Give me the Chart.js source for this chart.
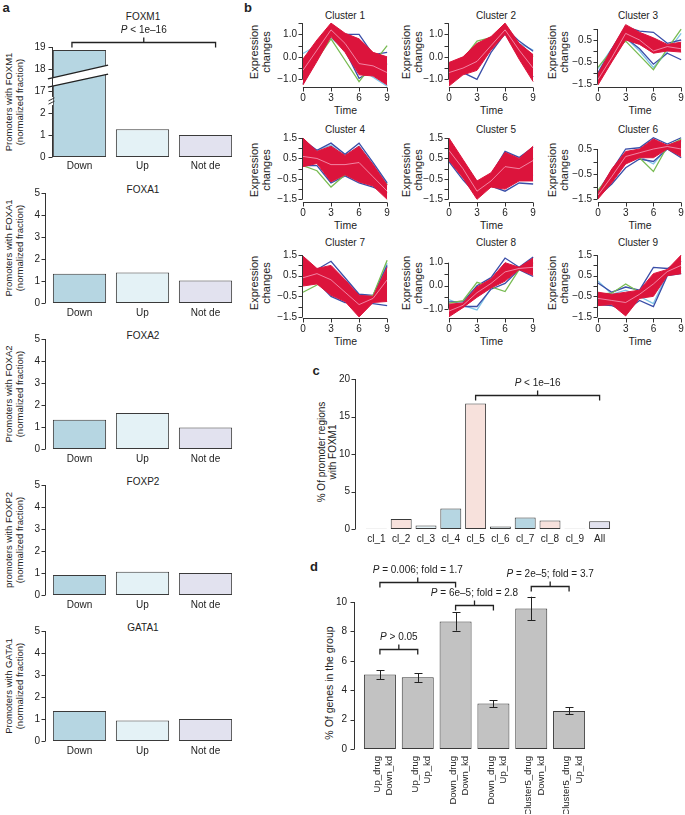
<!DOCTYPE html>
<html><head><meta charset="utf-8">
<script src="https://cdn.jsdelivr.net/npm/chart.js"></script>
<style>
html,body{margin:0;padding:0;background:#fff;overflow:hidden;width:685px;height:815px;}
body{position:relative;font-family:'Liberation Sans',Arial,sans-serif;color:#222;}
canvas{position:absolute;}
.t{position:absolute;white-space:nowrap;transform:translate(-50%,-50%);font-size:10px;line-height:1;text-align:center;}
.r{transform:translate(-50%,-50%) rotate(-90deg);}
.lab{font-weight:bold;font-size:13px;}
</style></head><body>
<script>
// ---------------- DATA ----------------
const aCats = ['Down', 'Up', 'Not de'];
const foxm1 = [18.86, 1.26, 1.0];
const foxa1 = [1.33, 1.39, 1.02];
const foxa2 = [1.33, 1.64, 0.98];
const foxp2 = [0.91, 1.06, 1.0];
const gata1 = [1.36, 0.93, 1.0];
const aYTicks = [0, 1, 2, 3, 4, 5];
const foxm1TickLabels = ['0', '1', '2', '17', '18', '19'];

const times = [0, 1.5, 3, 4.5, 6, 7.5, 9];
const timeTicks = [0, 3, 6, 9];
// series order per cluster: red upper, red lower, blue upper, blue lower, green, light blue, pink
const cluster1 = [
  [-0.1, 0.75, 1.5, 1.05, 0.8, 0.2, 0.0],
  [-1.25, -0.2, 0.9, 0.2, -0.8, -0.85, -1.25],
  [-0.2, 0.5, 1.2, 1.0, 1.0, 0.1, 0.2],
  [-1.2, 0.0, 1.0, 0.3, -0.95, -0.6, -0.3],
  [-1.0, -0.1, 0.8, -0.15, -1.1, -0.3, 0.5],
  [0.15, 0.5, 0.85, 0.3, -0.5, -0.9, -1.3],
  [-0.6, 0.3, 1.2, 0.6, -0.3, -0.4, -0.7]];
const cluster2 = [
  [-0.25, 0.0, 0.6, 0.9, 1.5, 0.6, 0.1],
  [-1.3, -0.8, -0.6, 0.3, 1.0, -0.1, -1.1],
  [-0.3, -0.2, 0.4, 0.8, 1.3, 0.7, 0.25],
  [-1.1, -0.7, -1.0, 0.2, 1.05, 0.0, -0.9],
  [-0.5, -0.1, 0.7, 0.85, 1.1, 0.5, 0.0],
  [-0.4, -0.3, -0.5, 0.5, 1.0, 0.6, 0.3],
  [-0.7, -0.5, -0.2, 0.5, 1.2, 0.3, -0.5]];
const cluster3 = [
  [-1.05, 0.1, 1.2, 0.85, 0.6, 0.3, 0.4],
  [-1.55, -0.5, 0.5, 0.3, -0.1, 0.0, -0.05],
  [-1.0, 0.1, 1.1, 0.9, 0.85, 0.35, 0.5],
  [-1.3, -0.4, 0.6, 0.1, -0.6, -0.1, -0.4],
  [-0.75, 0.0, 0.45, -0.2, -0.85, 0.1, 1.0],
  [-0.8, 0.1, 0.6, 0.0, -0.75, -0.05, 0.8],
  [-1.3, -0.3, 0.8, 0.5, 0.0, 0.2, 0.1]];
const cluster4 = [
  [1.5, 0.85, 1.1, 0.65, 1.1, 0.2, -0.8],
  [0.1, 0.25, -0.65, -0.3, -0.65, -0.85, -1.5],
  [1.4, 0.9, 1.25, 0.7, 1.25, 0.3, -0.7],
  [0.15, 0.15, -0.7, -0.35, -0.7, -0.9, -1.2],
  [0.15, -0.1, -0.9, -0.3, 0.9, 0.0, -0.8],
  [0.3, 0.9, 1.15, 0.6, 1.1, 0.2, -0.75],
  [0.6, 0.5, 0.2, 0.2, 0.3, -0.4, -1.1]];
const cluster5 = [
  [1.5, 0.45, -0.6, -0.2, 0.8, 0.5, 1.1],
  [0.4, -0.45, -1.5, -0.9, -1.0, -0.6, -0.6],
  [1.3, 0.3, -0.65, -0.3, 0.85, 0.55, 1.05],
  [0.35, -0.55, -1.3, -0.85, -1.1, -0.7, -0.75],
  [0.8, -0.2, -1.0, -0.6, 0.2, 0.3, 0.5],
  [0.5, -0.3, -0.9, -0.7, -0.4, -0.5, -0.3],
  [0.9, 0.0, -1.1, -0.6, 0.1, 0.0, 0.4]];
const cluster6 = [
  [-1.25, -0.3, 0.4, 0.5, 0.9, 0.65, 0.85],
  [-1.5, -0.85, -0.1, 0.15, 0.15, 0.5, 0.2],
  [-1.2, -0.35, 0.5, 0.55, 0.95, 0.7, 0.95],
  [-1.4, -0.9, -0.25, 0.1, 0.0, 0.5, 0.15],
  [-1.15, -0.5, 0.3, 0.15, -0.4, 0.6, 0.9],
  [-1.2, -0.6, 0.2, 0.2, -0.1, 0.55, 0.8],
  [-1.35, -0.6, 0.2, 0.35, 0.5, 0.6, 0.5]];
const cluster7 = [
  [1.45, 0.85, 1.0, 0.3, -0.45, -0.5, 0.9],
  [0.0, 0.1, -0.45, -0.75, -1.5, -0.8, -0.75],
  [1.3, 0.8, 1.2, 0.4, -0.4, -0.45, 1.0],
  [0.15, 0.2, -0.5, -0.8, -0.8, -0.85, -0.95],
  [-0.3, 0.05, 0.6, 0.0, -0.6, -0.45, 1.25],
  [0.2, 0.25, 0.4, -0.2, -0.4, -0.5, 1.1],
  [0.4, 0.6, 0.3, -0.3, -0.9, -0.6, 0.3]];
const cluster8 = [
  [-0.8, -0.75, -0.05, 0.3, 1.0, 0.8, 1.2],
  [-1.35, -0.95, -0.5, -0.1, 0.2, 0.7, 0.45],
  [-0.7, -0.7, 0.0, 0.35, 1.2, 0.8, 1.25],
  [-1.0, -0.9, -0.9, -0.15, 0.1, 0.7, 0.4],
  [-0.75, -0.65, 0.15, -0.05, -0.25, 0.7, 1.0],
  [-0.6, -0.85, -1.05, -0.1, 0.3, 0.75, 0.9],
  [-1.1, -0.85, -0.3, 0.1, 0.6, 0.75, 0.8]];
const cluster9 = [
  [-0.3, -0.4, -0.3, -0.2, 0.6, 0.8, 1.5],
  [-0.95, -0.9, -1.45, -0.6, -0.5, 0.5, 0.6],
  [0.15, -0.3, -0.05, -0.2, 0.9, 0.85, 1.2],
  [-0.9, -0.95, -1.2, -0.7, -1.0, 0.5, 0.6],
  [-0.4, -0.35, 0.1, -0.3, -0.2, 0.7, 0.9],
  [0.25, -0.4, -0.2, -0.5, -0.85, 0.6, 0.7],
  [-0.6, -0.7, -0.8, -0.4, 0.1, 0.7, 1.0]];
const clusterNames = ['Cluster 1','Cluster 2','Cluster 3','Cluster 4','Cluster 5','Cluster 6','Cluster 7','Cluster 8','Cluster 9'];
const clusterYMin = [-1.34, -1.34, -1.64, -1.63, -1.63, -1.62, -1.55, -1.4, -1.55];
const clusterYMax = [1.55, 1.55, 1.32, 1.55, 1.55, 0.98, 1.6, 1.42, 1.6];
const yTicksA = [-1, -0.5, 0, 0.5, 1, 1.5];
const yTicksB = [-1.5, -1, -0.5, 0, 0.5, 1];
const yTicksC = [-1.5, -1, -0.5, 0, 0.5, 1, 1.5];
const yTicksD = [-1.5, -1, -0.5, 0, 0.5];
const yTicksE = [-1, -0.5, 0, 0.5, 1];
const yLabA = [-1, 0, 1];
const yLabB = [-1.5, -0.5, 0.5];
const yLabC = [-1.5, -0.5, 0.5, 1.5];

const cCats = ['cl_1','cl_2','cl_3','cl_4','cl_5','cl_6','cl_7','cl_8','cl_9','All'];
const cVals = [0.05, 1.33, 0.48, 2.75, 16.75, 0.35, 1.55, 1.15, 0.05, 1.02];
const cYTicks = [0, 5, 10, 15, 20];

const dCats = [['Up_drug','Down_kd'], ['Up_drug','Up_kd'], ['Down_drug','Down_kd'], ['Down_drug','Up_kd'], ['Cluster5_drug','Down_kd'], ['Cluster5_drug','Up_kd']];
const dVals = [5.06, 4.88, 8.68, 3.1, 9.55, 2.58];
const dErrLo = [4.76, 4.56, 8.05, 2.86, 8.75, 2.38];
const dErrHi = [5.35, 5.17, 9.32, 3.33, 10.36, 2.83];
const dYTicks = [0, 2, 4, 6, 8, 10];

// ---------------- STYLE / HELPERS ----------------
const FONT = "'Liberation Sans', Arial, sans-serif";
Chart.defaults.font.family = FONT;
Chart.defaults.font.size = 10;
Chart.defaults.color = '#222';
Chart.defaults.animation = false;
Chart.defaults.plugins.legend.display = false;
Chart.defaults.plugins.tooltip.enabled = false;
const AX = '#333', EDGE = '#3a3a3a';
const C_DOWN = '#b6d6e2', C_UP = '#e4f2f6', C_NOT = '#e2e2ef', C_PINK = '#f7e1dc', C_GRAY = '#c2c2c2';

function txt(s, x, y, o = {}) {
  const d = document.createElement('div');
  d.className = 't' + (o.rot ? ' r' : '') + (o.cls ? ' ' + o.cls : '');
  d.innerHTML = s;
  d.style.left = x + 'px'; d.style.top = y + 'px';
  if (o.size) d.style.fontSize = o.size + 'px';
  if (o.lh) d.style.lineHeight = o.lh + 'px';
  document.body.appendChild(d);
}
function makeCanvas(area, Wy, Hx, padT, padR) {
  const c = document.createElement('canvas');
  const w = Math.round(area.r - area.l + Wy + padR), h = Math.round(area.b - area.t + padT + Hx);
  c.width = w; c.height = h;
  c.style.left = (area.l - Wy) + 'px'; c.style.top = (area.t - padT) + 'px';
  c.style.width = w + 'px'; c.style.height = h + 'px';
  document.body.appendChild(c);
  return c;
}
function fmt1(v) { return (v < 0 ? '\u2212' : '') + Math.abs(v).toFixed(1); }
function yLin(min, max, ticks, labelFn, Wy, pad) {
  return { type: 'linear', position: 'left', min, max,
    grid: { display: false, drawTicks: false }, border: { display: false },
    ticks: { padding: pad, autoSkip: false, callback: labelFn },
    afterBuildTicks: s => { s.ticks = ticks.map(v => ({ value: v })); },
    afterFit: s => { s.width = Wy; s.paddingTop = 0; s.paddingBottom = 0; } };
}
function xCat(Hx, pad, extra = {}) {
  return { type: 'category', grid: { display: false, drawTicks: false }, border: { display: false },
    ticks: Object.assign({ padding: pad, autoSkip: false, maxRotation: 0, minRotation: 0 }, extra),
    afterFit: s => { s.height = Hx; s.paddingLeft = 0; s.paddingRight = 0; } };
}
function drawP(ctx, x, y, rest) {
  ctx.save(); ctx.textBaseline = 'middle'; ctx.fillStyle = '#222'; ctx.textAlign = 'left';
  const fi = 'italic 10px ' + FONT, fn = '10px ' + FONT;
  ctx.font = fi; const w1 = ctx.measureText('P').width;
  ctx.font = fn; const w2 = ctx.measureText(rest).width;
  const sx = x - (w1 + w2) / 2;
  ctx.font = fi; ctx.fillText('P', sx, y);
  ctx.font = fn; ctx.fillText(rest, sx + w1, y);
  ctx.restore();
}

// ---------------- PLUGINS ----------------
const axisBreak = { id: 'axisBreak', afterDraw(chart, args, o) {
  if (!o || !o.band) return;
  const ctx = chart.ctx, ys = chart.scales.y, bar = chart.getDatasetMeta(0).data[o.bar];
  const xl = bar.x - bar.width / 2 - 5, xr = bar.x + bar.width / 2 + 2;
  const [bl, br, tl, tr] = o.band.map(v => ys.getPixelForValue(v));
  ctx.save();
  ctx.fillStyle = '#fff';
  ctx.beginPath(); ctx.moveTo(xl, tl); ctx.lineTo(xr, tr); ctx.lineTo(xr, br); ctx.lineTo(xl, bl); ctx.closePath(); ctx.fill();
  ctx.strokeStyle = '#222'; ctx.lineWidth = 1.3;
  ctx.beginPath(); ctx.moveTo(xl, tl); ctx.lineTo(xr, tr); ctx.moveTo(xl, bl); ctx.lineTo(xr, br); ctx.stroke();
  const ax = chart.chartArea.left - o.gap;
  ctx.lineWidth = 1; ctx.strokeStyle = AX; ctx.beginPath();
  o.marks.forEach(v => { const p = ys.getPixelForValue(v); ctx.moveTo(ax - 3, p + 1.5); ctx.lineTo(ax + 3, p - 1.5); });
  ctx.stroke(); ctx.restore();
} };
const rAxes = { id: 'rAxes', afterDraw(chart, args, o) {
  if (!o) return;
  const ctx = chart.ctx, ca = chart.chartArea;
  ctx.save(); ctx.strokeStyle = AX; ctx.lineWidth = 1; ctx.beginPath();
  if (o.y) {
    const s = chart.scales.y, x = Math.round(ca.left - o.y.gap) + 0.5, tk = o.y.ticks;
    const segs = o.y.segs || [[tk[0], tk[tk.length - 1]]];
    segs.forEach(([a, b]) => { ctx.moveTo(x, s.getPixelForValue(a)); ctx.lineTo(x, s.getPixelForValue(b)); });
    tk.forEach(v => { const p = Math.round(s.getPixelForValue(v)) + 0.5; ctx.moveTo(x, p); ctx.lineTo(x - 4, p); });
  }
  if (o.x) {
    const s = chart.scales.x, y = Math.round(ca.bottom + o.x.gap) + 0.5, tk = o.x.ticks;
    ctx.moveTo(s.getPixelForValue(tk[0]), y); ctx.lineTo(s.getPixelForValue(tk[tk.length - 1]), y);
    tk.forEach(v => { const p = Math.round(s.getPixelForValue(v)) + 0.5; ctx.moveTo(p, y); ctx.lineTo(p, y + 4); });
  }
  ctx.stroke(); ctx.restore();
} };
const brackets = { id: 'brackets', afterDraw(chart, args, o) {
  if (!o || !o.items) return;
  const ctx = chart.ctx, xs = chart.scales.x, ys = chart.scales.y;
  o.items.forEach(b => {
    const x0 = xs.getPixelForValue(b.a), x1 = xs.getPixelForValue(b.b), xm = (x0 + x1) / 2;
    const y = Math.round(ys.getPixelForValue(b.y)) + 0.5;
    ctx.save(); ctx.strokeStyle = '#222'; ctx.lineWidth = 1.3; ctx.beginPath();
    ctx.moveTo(x0, y + 5); ctx.lineTo(x0, y); ctx.lineTo(x1, y); ctx.lineTo(x1, y + 5);
    ctx.moveTo(xm, y); ctx.lineTo(xm, y - 5); ctx.stroke(); ctx.restore();
    drawP(ctx, xm, y - 12, b.t);
  });
} };
const errBars = { id: 'errBars', afterDatasetsDraw(chart, args, o) {
  if (!o || !o.lo) return;
  const ctx = chart.ctx, ys = chart.scales.y;
  ctx.save(); ctx.strokeStyle = '#222'; ctx.lineWidth = 1; ctx.beginPath();
  chart.getDatasetMeta(0).data.forEach((bar, i) => {
    const x = Math.round(bar.x) + 0.5, a = ys.getPixelForValue(o.lo[i]), b = ys.getPixelForValue(o.hi[i]);
    ctx.moveTo(x, a); ctx.lineTo(x, b);
    ctx.moveTo(x - 4, Math.round(a) + 0.5); ctx.lineTo(x + 4, Math.round(a) + 0.5);
    ctx.moveTo(x - 4, Math.round(b) + 0.5); ctx.lineTo(x + 4, Math.round(b) + 0.5);
  });
  ctx.stroke(); ctx.restore();
} };
Chart.register(axisBreak, rAxes, brackets, errBars);

// ---------------- PANEL LABELS ----------------
txt('a', 6, 7, { cls: 'lab' });
txt('b', 248, 7, { cls: 'lab' });
txt('c', 316, 370, { cls: 'lab' });
txt('d', 314, 566, { cls: 'lab' });

// ---------------- PANEL A ----------------
const aPanels = [
  { vals: foxm1, name: 'FOXM1', ylab: 'Promoters with FOXM1', top: 47, broken: true },
  { vals: foxa1, name: 'FOXA1', ylab: 'Promoters with FOXA1', top: 193 },
  { vals: foxa2, name: 'FOXA2', ylab: 'Promoters with FOXA2', top: 339 },
  { vals: foxp2, name: 'FOXP2', ylab: 'promoters with FOXP2', top: 485 },
  { vals: gata1, name: 'GATA1', ylab: 'Promoters with GATA1', top: 631 }];
const brkShift = 14; // 16.5 on the real axis sits right above 2.5
aPanels.forEach(p => {
  const area = { l: 48, r: 237, t: p.top, b: p.top + 110 };
  txt(p.name, 143, p.top - 3 - (p.broken ? 27 : 0));
  txt(p.ylab + '<br>(normalized fraction)', 13.5, p.top + 55, { rot: true, size: 9.5, lh: 11 });
  const padT = p.broken ? 28 : 7;
  const cv = makeCanvas(area, 48, 20, padT, 4);
  const shown = p.broken ? p.vals.map(v => v > 2.5 ? v - brkShift : v) : p.vals;
  const labFn = p.broken ? (v => foxm1TickLabels[aYTicks.indexOf(v)]) : (v => String(v));
  new Chart(cv, { type: 'bar',
    data: { labels: aCats, datasets: [{ data: shown, backgroundColor: [C_DOWN, C_UP, C_NOT], borderColor: EDGE,
      borderWidth: 1, borderSkipped: false, categoryPercentage: 1, barPercentage: 0.845 }] },
    options: { responsive: false, devicePixelRatio: 1, layout: { padding: { top: padT, right: 4, left: 0, bottom: 0 } },
      scales: { x: xCat(20, p.broken ? 3 : 4), y: yLin(0, 5, aYTicks, labFn, 48, p.broken ? 2.5 : 8) },
      plugins: {
        rAxes: { y: { gap: p.broken ? -3.5 : 3.5, ticks: aYTicks, segs: p.broken ? [[0, 2.36], [2.73, 5]] : null } },
        brackets: p.broken ? { items: [{ a: -0.12, b: 2.16, y: 5.23, t: ' < 1e\u201316' }] } : false,
        axisBreak: p.broken ? { bar: 0, band: [3.18, 3.77, 3.55, 4.18], gap: -3.5, marks: [2.47, 2.62] } : false
      } } });
});

// ---------------- PANEL B ----------------
const clusters = [cluster1, cluster2, cluster3, cluster4, cluster5, cluster6, cluster7, cluster8, cluster9];
const clusterYTicks = [yTicksA, yTicksA, yTicksB, yTicksC, yTicksC, yTicksD, yTicksC, yTicksE, yTicksC];
const clusterYLab = [yLabA, yLabA, yLabB, yLabC, yLabC, yLabB, yLabC, yLabA, yLabC];
const seriesStyle = [
  { c: '#dc143c', w: 1, order: 1 },
  { c: '#dc143c', w: 1, order: 1, fill: '-1' },
  { c: '#3a4ea8', w: 1.3, order: 3 },
  { c: '#3a4ea8', w: 1.3, order: 3 },
  { c: '#78bb52', w: 1.3, order: 2 },
  { c: '#80c6e8', w: 1.3, order: 4 },
  { c: 'rgba(250,185,212,0.85)', w: 0.8, order: 0 }];
const colL = [302, 448, 597], colR = [389, 535, 683];
const rowT = [22, 137, 253], rowB = [87, 202, 318];
const titleY = [16, 130, 243], timeY = [110, 225, 341], ylabY = [52, 170, 283];
const titleX = [345, 496, 638], ylabX = [260, 411.5, 558];
clusters.forEach((cl, k) => {
  const col = k % 3, row = Math.floor(k / 3);
  const area = { l: colL[col], r: colR[col], t: rowT[row], b: rowB[row] };
  txt(clusterNames[k], titleX[col], titleY[row]);
  txt('Time', (area.l + area.r) / 2, timeY[row], { size: 10.5 });
  txt('Expression<br>changes', ylabX[col], ylabY[row], { rot: true, size: 11, lh: 12 });
  const cv = makeCanvas(area, 25, 18, 4, col === 2 ? 2 : 4);
  const labs = clusterYLab[k];
  new Chart(cv, { type: 'line',
    data: { datasets: cl.map((ys, i) => {
      const st = seriesStyle[i];
      return { data: ys.map((y, j) => ({ x: times[j], y })), borderColor: st.c, borderWidth: st.w, order: st.order,
        pointRadius: 0, tension: 0, fill: st.fill || false, backgroundColor: st.c };
    }) },
    options: { responsive: false, devicePixelRatio: 1,
      layout: { padding: { top: 4, right: col === 2 ? 2 : 4, left: 0, bottom: 0 } },
      scales: {
        x: { type: 'linear', min: -0.1, max: 9.2, grid: { display: false, drawTicks: false }, border: { display: false },
          ticks: { padding: 5, autoSkip: false, maxRotation: 0, callback: v => String(v) },
          afterBuildTicks: s => { s.ticks = timeTicks.map(v => ({ value: v })); },
          afterFit: s => { s.height = 18; s.paddingLeft = 0; s.paddingRight = 0; } },
        y: yLin(clusterYMin[k], clusterYMax[k], clusterYTicks[k], v => labs.includes(v) ? fmt1(v) : '', 25, 5)
      },
      plugins: { rAxes: { y: { gap: 0, ticks: clusterYTicks[k] }, x: { gap: 0, ticks: timeTicks } }, brackets: false, axisBreak: false } } });
});

// ---------------- PANEL C ----------------
txt('% Of promoter regions<br>with FOXM1', 327, 452, { rot: true, size: 10, lh: 11 });
(function () {
  const area = { l: 364, r: 612, t: 379, b: 529 };
  const cv = makeCanvas(area, 34, 18, 30, 6);
  const cols = [C_DOWN, C_PINK, C_UP, C_DOWN, C_PINK, C_UP, C_DOWN, C_PINK, C_UP, C_NOT];
  new Chart(cv, { type: 'bar',
    data: { labels: cCats, datasets: [{ data: cVals, backgroundColor: cols, borderColor: EDGE, borderWidth: 1,
      borderSkipped: false, categoryPercentage: 1, barPercentage: 0.845 }] },
    options: { responsive: false, devicePixelRatio: 1, layout: { padding: { top: 30, right: 6, left: 0, bottom: 0 } },
      scales: { x: xCat(18, 4), y: yLin(0, 20, cYTicks, v => String(v), 34, 14) },
      plugins: { rAxes: { y: { gap: 9, ticks: cYTicks } },
        brackets: { items: [{ a: 4, b: 9, y: 17.87, t: ' < 1e\u201316' }] }, axisBreak: false } } });
})();

// ---------------- PANEL D ----------------
txt('% Of genes in the group', 329, 683, { rot: true, size: 10.5 });
(function () {
  const area = { l: 361, r: 588, t: 602, b: 749 };
  const cv = makeCanvas(area, 40, 65, 44, 8);
  new Chart(cv, { type: 'bar',
    data: { labels: dCats, datasets: [{ data: dVals, backgroundColor: C_GRAY, borderColor: EDGE, borderWidth: 1,
      borderSkipped: false, categoryPercentage: 1, barPercentage: 0.846 }] },
    options: { responsive: false, devicePixelRatio: 1, layout: { padding: { top: 44, right: 8, left: 0, bottom: 0 } },
      scales: { x: xCat(65, 7, { maxRotation: 90, minRotation: 90, labelOffset: -2.5, font: { size: 9.5, lineHeight: 1.3 } }),
        y: yLin(0, 10, dYTicks, v => String(v), 40, 14) },
      plugins: { rAxes: { y: { gap: 7, ticks: dYTicks } },
        errBars: { lo: dErrLo, hi: dErrHi },
        brackets: { items: [
          { a: 0, b: 1, y: 6.8, t: ' > 0.05' },
          { a: 0, b: 2, y: 11.35, t: ' = 0.006; fold = 1.7' },
          { a: 2, b: 3, y: 9.8, t: ' = 6e\u20135; fold = 2.8' },
          { a: 4, b: 5, y: 11.1, t: ' = 2e\u20135; fold = 3.7' }] },
        axisBreak: false } } });
})();
</script>
</body></html>
